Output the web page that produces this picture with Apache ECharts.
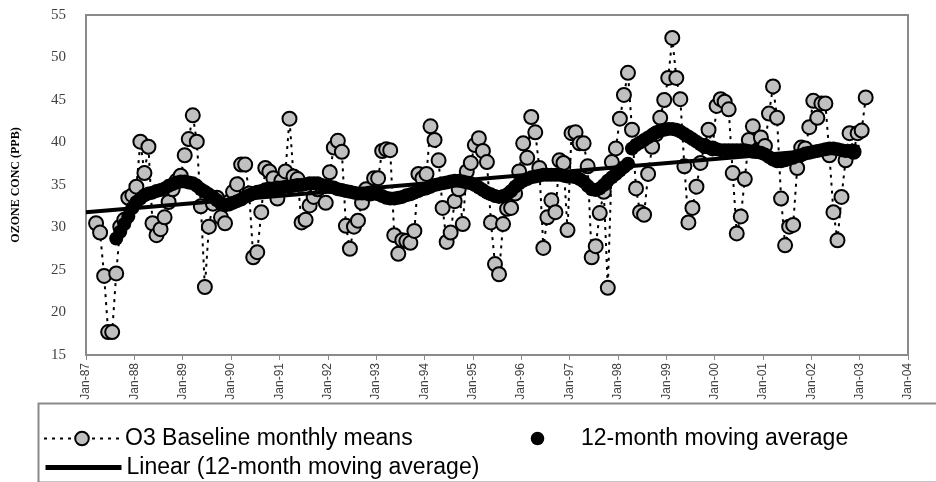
<!DOCTYPE html>
<html>
<head>
<meta charset="utf-8">
<script src="https://cdn.jsdelivr.net/npm/echarts@6/dist/echarts.min.js"></script>
<style>
html,body{margin:0;padding:0;background:#fff;}
#main{width:936px;height:482px;}
</style>
</head>
<body>
<div id="main"></div>
<script>
// tick labels, one per January (month 0 = Jan-87)
const yearLabels = ['Jan-87','Jan-88','Jan-89','Jan-90','Jan-91','Jan-92','Jan-93','Jan-94','Jan-95',
  'Jan-96','Jan-97','Jan-98','Jan-99','Jan-00','Jan-01','Jan-02','Jan-03','Jan-04'];

// O3 baseline monthly means (ppb), series starts Mar-87
const o3Start = 2;
const o3_1987 = [30.5, 29.4, 24.3, 17.7, 17.7, 24.6, 30.1, 30.9, 33.5, 33.8];
const o3_1988 = [34.8, 40.1, 36.4, 39.5, 30.5, 29.1, 29.8, 31.2, 33.0, 34.5, 35.5, 36.1];
const o3_1989 = [38.5, 40.4, 43.2, 40.1, 32.5, 23.0, 30.1, 32.8, 33.5, 31.2, 30.5, 33.0];
const o3_1990 = [34.2, 35.1, 37.4, 37.4, 34.0, 26.5, 27.1, 31.8, 37.0, 36.6, 35.8, 33.4];
const o3_1991 = [35.5, 36.6, 42.8, 36.0, 35.7, 30.6, 30.9, 32.6, 33.6, 34.5, 34.8, 32.9];
const o3_1992 = [36.5, 39.4, 40.2, 38.9, 30.2, 27.5, 30.1, 30.8, 32.9, 34.5, 34.0, 35.8];
const o3_1993 = [35.8, 39.0, 39.2, 39.1, 29.1, 26.9, 28.5, 28.4, 28.2, 29.6, 36.3, 35.8];
const o3_1994 = [36.3, 41.9, 40.3, 37.9, 32.3, 28.3, 29.4, 33.1, 34.5, 30.4, 36.6, 37.6];
const o3_1995 = [39.7, 40.5, 39.0, 37.7, 30.6, 25.7, 24.5, 30.4, 32.2, 32.3, 34.0, 36.6];
const o3_1996 = [39.9, 38.2, 43.0, 41.2, 37.0, 27.6, 31.2, 33.2, 31.8, 37.9, 37.6, 29.7];
const o3_1997 = [41.1, 41.2, 39.9, 39.9, 37.2, 26.5, 27.8, 31.7, 34.2, 22.9, 37.7, 39.3];
const o3_1998 = [42.8, 45.6, 48.2, 41.5, 34.6, 31.8, 31.5, 36.3, 39.5, 41.0, 42.9, 45.0];
const o3_1999 = [47.6, 52.3, 47.6, 45.1, 37.2, 30.6, 32.3, 34.8, 37.6, 39.6, 41.5, 39.3];
const o3_2000 = [44.3, 45.1, 44.8, 43.9, 36.4, 29.3, 31.3, 35.7, 40.3, 41.9, 39.0, 40.6];
const o3_2001 = [39.6, 43.4, 46.6, 42.9, 33.4, 27.9, 30.1, 30.3, 37.0, 39.4, 39.3, 41.8];
const o3_2002 = [44.9, 42.9, 44.6, 44.6, 38.5, 31.8, 28.5, 33.6, 37.9, 41.1, 38.9, 41.1];
const o3_2003 = [41.4, 45.3];

// 12-month moving average (ppb), starts Aug-87
const maStart = 7;
const ma_1987 = [28.7, 29.5, 30.4, 31.3, 32.3];
const ma_1988 = [33.0, 33.4, 33.8, 34.0, 34.1, 34.3, 34.4, 34.6, 34.9, 35.1, 35.3, 35.4];
const ma_1989 = [35.4, 35.3, 35.2, 34.9, 34.5, 34.2, 33.9, 33.6, 33.2, 32.8, 32.6, 32.7];
const ma_1990 = [32.9, 33.1, 33.3, 33.6, 33.8, 34.0, 34.2, 34.3, 34.5, 34.6, 34.6, 34.7];
const ma_1991 = [34.7, 34.8, 34.8, 34.9, 35.0, 35.0, 35.1, 35.2, 35.2, 35.2, 35.0, 34.9];
const ma_1992 = [34.8, 34.7, 34.5, 34.4, 34.3, 34.2, 34.1, 34.0, 34.0, 34.0, 34.0, 34.0];
const ma_1993 = [33.9, 33.7, 33.5, 33.4, 33.4, 33.5, 33.6, 33.8, 33.9, 34.1, 34.3, 34.5];
const ma_1994 = [34.6, 34.8, 35.0, 35.1, 35.2, 35.3, 35.4, 35.5, 35.5, 35.4, 35.3, 35.2];
const ma_1995 = [35.0, 34.7, 34.4, 34.1, 33.9, 33.7, 33.6, 33.7, 33.9, 34.3, 34.8, 35.2];
const ma_1996 = [35.5, 35.7, 35.9, 36.0, 36.1, 36.2, 36.2, 36.2, 36.2, 36.2, 36.1, 36.0];
const ma_1997 = [36.0, 35.9, 35.7, 35.4, 34.9, 34.5, 34.4, 34.6, 35.0, 35.5, 35.9, 36.3];
const ma_1998 = [36.7, 37.1, 37.5, 39.3, 39.7, 40.0, 40.3, 40.6, 40.9, 41.2, 41.4, 41.5];
const ma_1999 = [41.6, 41.6, 41.5, 41.3, 41.0, 40.7, 40.4, 40.1, 39.8, 39.6, 39.4, 39.3];
const ma_2000 = [39.2, 39.1, 39.1, 39.1, 39.1, 39.1, 39.1, 39.1, 39.0, 38.9, 38.9, 38.8];
const ma_2001 = [38.6, 38.3, 38.0, 37.8, 37.8, 37.9, 38.1, 38.2, 38.4, 38.5, 38.7, 38.8];
const ma_2002 = [38.9, 39.0, 39.1, 39.2, 39.3, 39.3, 39.2, 39.1, 39.0, 39.0, 38.9];

// linear trend of the moving average, end points
const trendMonths = [0, 192];
const trendValues = [31.8, 39.5];

const yTicks = [15, 55, 5]; // min, max, step

var o3All = [].concat(o3_1987, o3_1988, o3_1989, o3_1990, o3_1991, o3_1992, o3_1993, o3_1994,
  o3_1995, o3_1996, o3_1997, o3_1998, o3_1999, o3_2000, o3_2001, o3_2002, o3_2003);
var maAll = [].concat(ma_1987, ma_1988, ma_1989, ma_1990, ma_1991, ma_1992, ma_1993, ma_1994,
  ma_1995, ma_1996, ma_1997, ma_1998, ma_1999, ma_2000, ma_2001, ma_2002);

// points sit in the middle of their month
var o3Data = o3All.map(function (v, i) { return [o3Start + i + 0.5, v]; });
var maData = maAll.map(function (v, i) { return [maStart + i + 0.5, v]; });
var trendData = trendMonths.map(function (m, i) { return [m, trendValues[i]]; });

var myChart = echarts.init(document.getElementById('main'));

var legendText = { fontFamily: 'Liberation Sans', fontSize: 23, color: '#000' };

var option = {
  animation: false,
  grid: {
    left: 86, right: 28, top: 15, bottom: 127,
    show: true, borderColor: '#8a8a8a', borderWidth: 2
  },
  xAxis: {
    type: 'value',
    min: 0, max: 204, interval: 12,
    axisLine: { lineStyle: { color: '#8a8a8a', width: 2 } },
    axisTick: { show: true, length: 5, lineStyle: { color: '#8a8a8a', width: 1 } },
    splitLine: { show: false },
    axisLabel: {
      rotate: 90, margin: 8,
      fontFamily: 'Liberation Sans', fontSize: 12, color: '#404040',
      formatter: function (v) { return yearLabels[Math.round(v / 12)]; }
    }
  },
  yAxis: {
    type: 'value',
    min: yTicks[0], max: yTicks[1], interval: yTicks[2],
    name: 'OZONE CONC (PPB)',
    nameLocation: 'middle', nameGap: 64, nameRotate: 90,
    nameTextStyle: { fontFamily: 'Liberation Serif', fontWeight: 'bold', fontSize: 12, color: '#000' },
    axisLine: { show: true, lineStyle: { color: '#8a8a8a', width: 2 } },
    axisTick: { show: false },
    splitLine: { show: false },
    axisLabel: { margin: 20, fontFamily: 'Liberation Serif', fontSize: 15, color: '#404040' }
  },
  legend: [
    { data: ['O3 Baseline monthly means'], left: 38, top: 422, itemWidth: 76, itemHeight: 17, textStyle: legendText },
    { data: ['12-month moving average'], left: 494, top: 422, itemWidth: 77, itemHeight: 17, textStyle: legendText },
    {
      data: ['Linear (12-month moving average)'], left: 38, top: 451, itemWidth: 76, itemHeight: 17,
      textStyle: legendText,
      itemStyle: { opacity: 0 },
      lineStyle: { width: 5, color: '#000' }
    }
  ],
  graphic: [{
    type: 'rect', left: 36, top: 401, silent: true,
    shape: { width: 905, height: 79 },
    style: { fill: 'none', stroke: '#8a8a8a', lineWidth: 2 }
  }],
  series: [
    {
      name: 'O3 Baseline monthly means',
      type: 'line',
      data: o3Data,
      symbol: 'circle', symbolSize: 14,
      itemStyle: { color: '#c0c0c0', borderColor: '#000', borderWidth: 2 },
      lineStyle: { color: '#000', width: 2, type: [3, 5] },
      z: 2
    },
    {
      name: '12-month moving average',
      type: 'line',
      data: maData,
      symbol: 'circle', symbolSize: 14,
      itemStyle: { color: '#000' },
      lineStyle: { width: 0, opacity: 0 },
      z: 3
    },
    {
      name: 'Linear (12-month moving average)',
      type: 'line',
      data: trendData,
      symbol: 'none',
      lineStyle: { color: '#000', width: 4 },
      itemStyle: { color: '#000' },
      z: 4
    }
  ]
};

myChart.setOption(option);
</script>
</body>
</html>
